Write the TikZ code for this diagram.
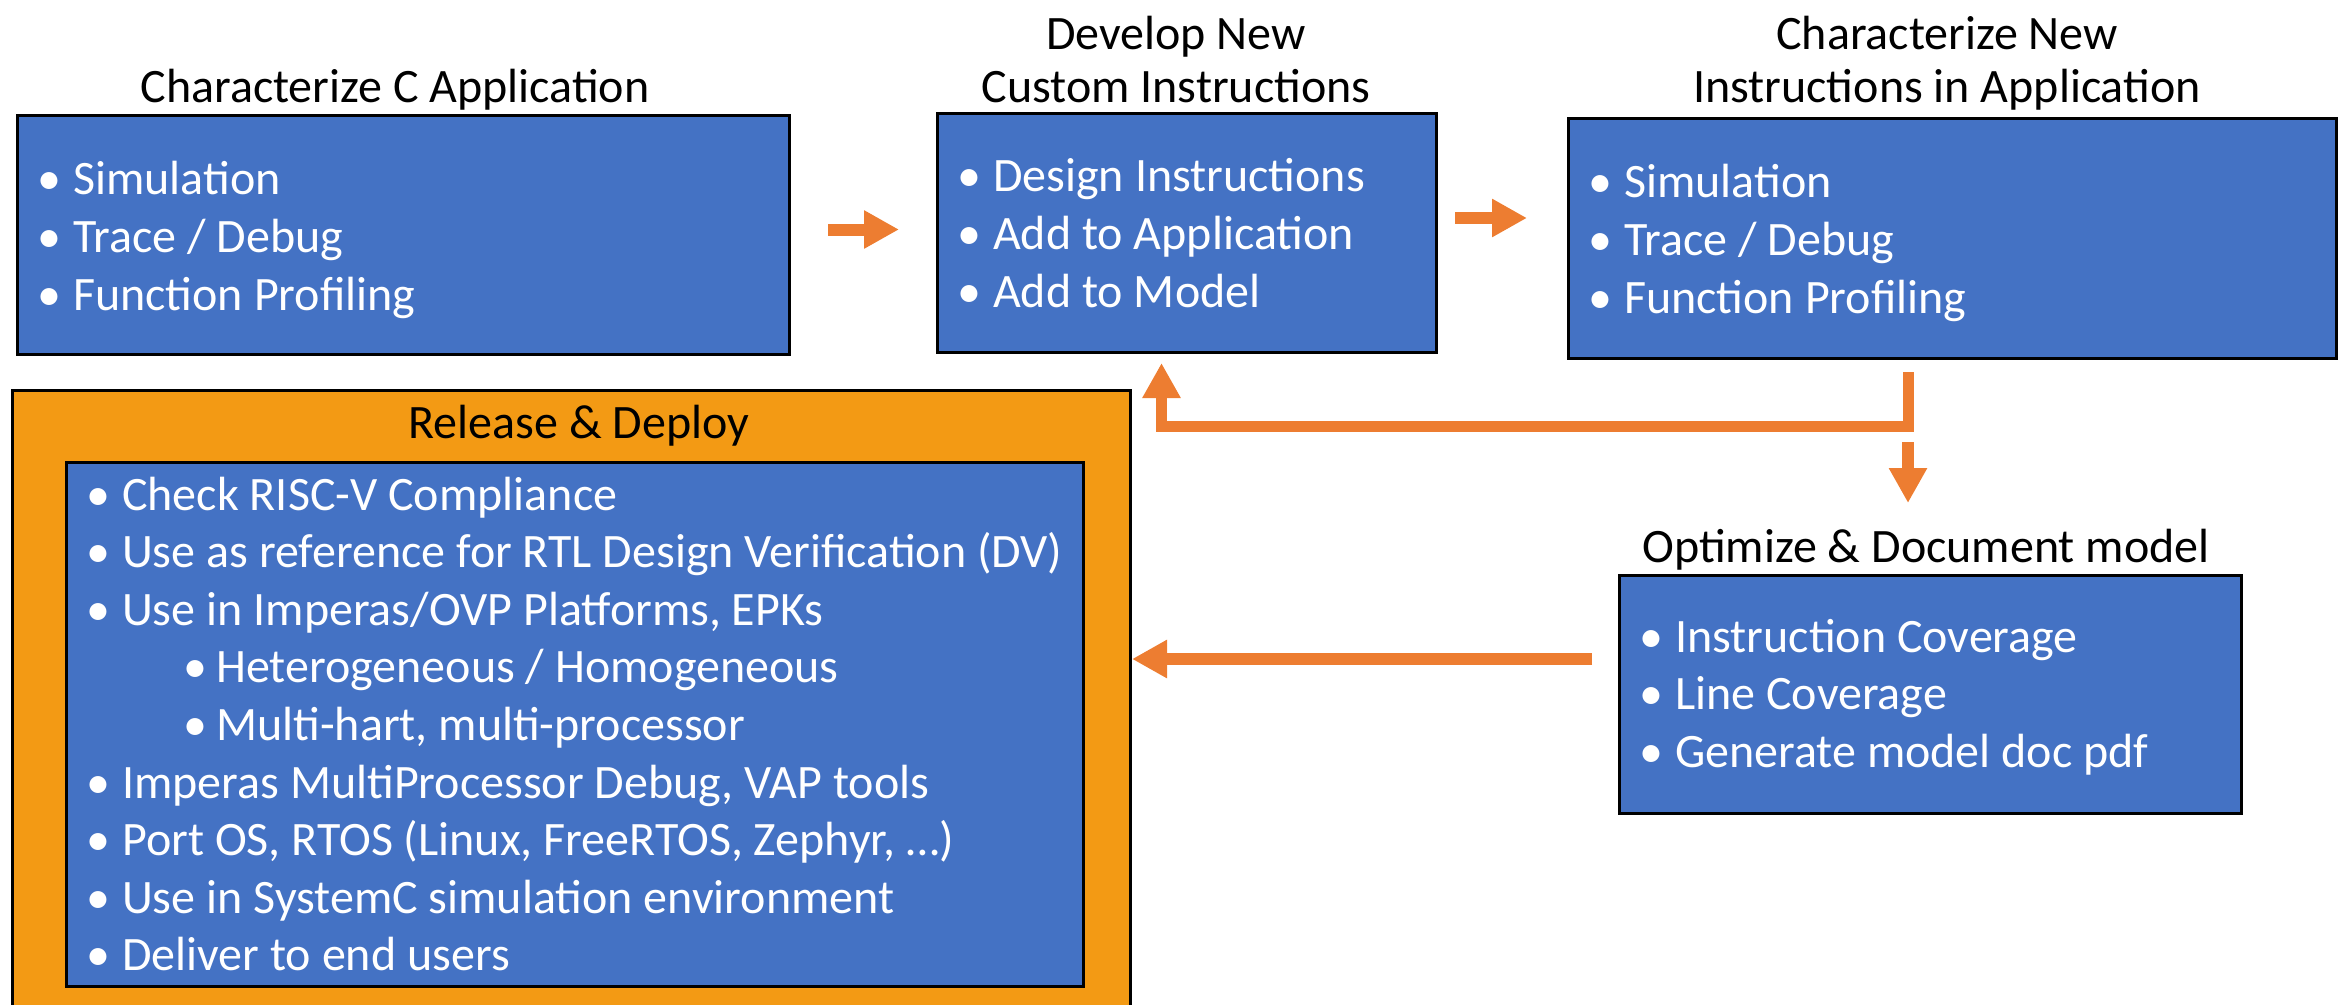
\documentclass[tikz,border=0pt]{standalone}
\usepackage{fontspec}
\setmainfont{Carlito}
\usetikzlibrary{arrows.meta}
\definecolor{boxblue}{HTML}{4472C4}
\definecolor{arrorange}{HTML}{ED7D31}
\definecolor{relorange}{HTML}{F39A14}
\newcommand{\bl}[1]{\makebox[36pt][l]{•}#1}
\newcommand{\sbl}[1]{\hspace*{97pt}\makebox[33pt][l]{•}#1}
\tikzset{
  bluebox/.style={draw=black, line width=2.5pt, fill=boxblue, inner sep=0pt, anchor=north west},
  listtext/.style={text=white, align=left, inner sep=0pt, anchor=west, font=\fontsize{48}{57.6}\selectfont},
  titletext/.style={text=black, inner sep=0pt, anchor=base, font=\fontsize{48}{53}\selectfont},
  blockarrow/.style={draw=arrorange, line width=12pt, -{Triangle[length=35pt,width=36pt]}},
  elbowarrow/.style={draw=arrorange, line width=11pt, line join=miter, -{Triangle[length=35pt,width=36pt]}}
}
\begin{document}
\begin{tikzpicture}[x=1pt,y=-1pt]
\useasboundingbox (0,0) rectangle (2349,1004);
\clip (0,0) rectangle (2349,1004);
% release box
\node[draw=black, line width=2.5pt, fill=relorange, inner sep=0pt, anchor=north west,
      minimum width=1118pt, minimum height=640pt] (rel) at (11,389) {};
\node[bluebox, minimum width=1017pt, minimum height=524pt] (reli) at (65,461) {};
\node[titletext] (relt) at (579,438) {Release \& Deploy};
\node[listtext] (relx) at (86,724) {\bl{Check RISC-V Compliance}\\
\bl{Use as reference for RTL Design Verification (DV)}\\
\bl{Use in Imperas/OVP Platforms, EPKs}\\
\sbl{Heterogeneous / Homogeneous}\\
\sbl{Multi-hart, multi-processor}\\
\bl{Imperas MultiProcessor Debug, VAP tools}\\
\bl{Port OS, RTOS (Linux, FreeRTOS, Zephyr, …)}\\
\bl{Use in SystemC simulation environment}\\
\bl{Deliver to end users}};
% box 1
\node[titletext] (t1) at (395,102) {Characterize C Application};
\node[bluebox, minimum width=772pt, minimum height=239pt] (b1) at (16,114) {};
\node[listtext] (x1) at (37,240) {\bl{Simulation}\\\bl{Trace / Debug}\\\bl{Function Profiling}};
% box 2
\node[titletext] (t2a) at (1176,49) {Develop New};
\node[titletext] (t2b) at (1176,102) {Custom Instructions};
\node[bluebox, minimum width=499pt, minimum height=239pt] (b2) at (936,112) {};
\node[listtext] (x2) at (957,233) {\bl{Design Instructions}\\\bl{Add to Application}\\\bl{Add to Model}};
% box 3
\node[titletext] (t3a) at (1947,49) {Characterize New};
\node[titletext] (t3b) at (1947,102) {Instructions in Application};
\node[bluebox, minimum width=768pt, minimum height=240pt] (b3) at (1567,117) {};
\node[listtext] (x3) at (1588,243) {\bl{Simulation}\\\bl{Trace / Debug}\\\bl{Function Profiling}};
% box 4
\node[titletext] (t4) at (1926,562) {Optimize \& Document model};
\node[bluebox, minimum width=622pt, minimum height=238pt] (b4) at (1618,574) {};
\node[listtext] (x4) at (1639,697) {\bl{Instruction Coverage}\\\bl{Line Coverage}\\\bl{Generate model doc pdf}};
% connectors
\coordinate (a1s) at (828,229.5);
\coordinate (a1e) at (899,229.5);
\coordinate (a2s) at (1455,218);
\coordinate (a2e) at (1527,218);
\coordinate (fb0) at (1908,372);
\coordinate (fb1) at (1908,426.5);
\coordinate (fb2) at (1161.5,426.5);
\coordinate (fb3) at (1161.5,363);
\coordinate (d0) at (1908,442);
\coordinate (d1) at (1908,503);
\coordinate (l0) at (1592,659);
\coordinate (l1) at (1132,659);
\draw[blockarrow] (a1s) -- (a1e);
\draw[blockarrow] (a2s) -- (a2e);
\draw[elbowarrow] (fb0) -- (fb1) -- (fb2) -- (fb3);
\draw[blockarrow] (d0) -- (d1);
\draw[blockarrow] (l0) -- (l1);
\end{tikzpicture}
\end{document}
